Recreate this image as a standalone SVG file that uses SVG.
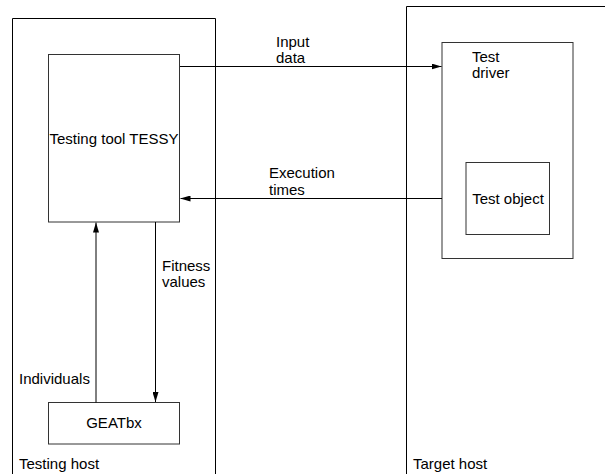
<svg xmlns="http://www.w3.org/2000/svg" width="605" height="474" viewBox="0 0 605 474">
<style>
text{font-family:"Liberation Sans",Arial,sans-serif;font-size:15px;fill:#000}
.host{fill:none;stroke:#000;stroke-width:1}
.box{fill:#fff;stroke:#333;stroke-width:1}
.con{fill:none;stroke:#000;stroke-width:1}
</style>
<defs>
<marker id="ah" viewBox="0 0 10 6" refX="10" refY="3" markerWidth="10" markerHeight="6" markerUnits="userSpaceOnUse" orient="auto">
<path d="M0,0 L10,3 L0,6 Z" fill="#000"/>
</marker>
</defs>
<rect width="605" height="474" fill="#fff"/>
<g id="testing-host">
<path class="host" d="M12.5,480 V18.5 H215.5 V480"/>
<text x="19" y="469">Testing host</text>
</g>
<g id="target-host">
<path class="host" d="M406.5,480 V6.5 H610"/>
<text x="413" y="469">Target host</text>
</g>
<g id="tessy">
<rect class="box" x="48.5" y="54.5" width="131" height="167.5"/>
<text x="114" y="144" text-anchor="middle">Testing tool TESSY</text>
</g>
<g id="test-driver">
<rect class="box" x="442" y="42.5" width="131" height="216"/>
<text x="472" y="62">Test</text>
<text x="472" y="78">driver</text>
</g>
<g id="test-object">
<rect class="box" x="466" y="162.5" width="83.5" height="72"/>
<text x="508" y="204" text-anchor="middle">Test object</text>
</g>
<g id="geatbx">
<rect class="box" x="48.5" y="402.5" width="131" height="41.5"/>
<text x="114" y="428" text-anchor="middle">GEATbx</text>
</g>
<g id="connectors">
<line class="con" x1="180" y1="66.5" x2="441.5" y2="66.5" marker-end="url(#ah)"/>
<line class="con" x1="442" y1="198.5" x2="180.5" y2="198.5" marker-end="url(#ah)"/>
<line class="con" x1="96" y1="402.5" x2="96" y2="222.5" marker-end="url(#ah)"/>
<line class="con" x1="155.5" y1="222" x2="155.5" y2="402" marker-end="url(#ah)"/>
<text x="276" y="47">Input</text>
<text x="276" y="63">data</text>
<text x="269" y="178">Execution</text>
<text x="269" y="195">times</text>
<text x="162" y="271">Fitness</text>
<text x="162" y="287">values</text>
<text x="19" y="384">Individuals</text>
</g>
</svg>
